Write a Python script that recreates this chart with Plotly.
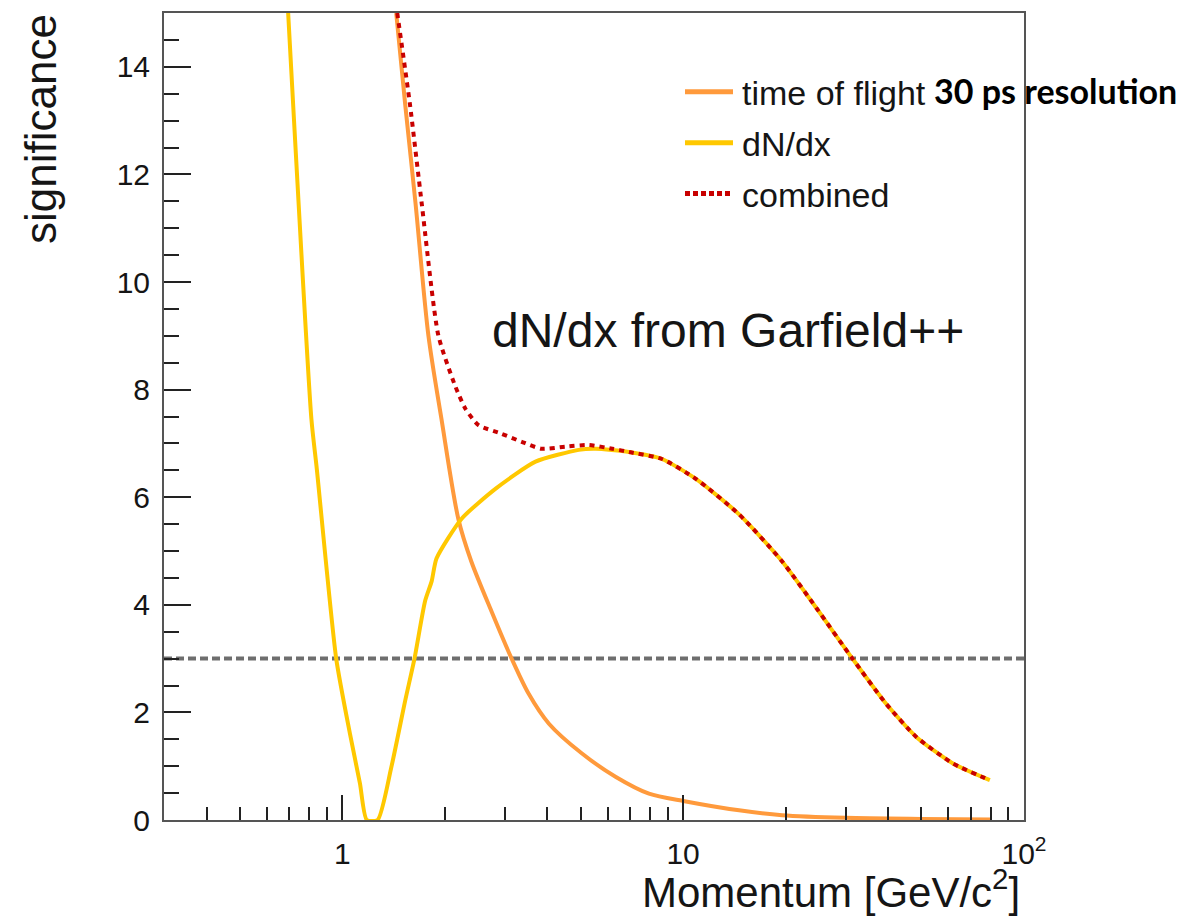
import plotly.graph_objects as go
import numpy as np

# ---------------- data ----------------
tof_x = [1.44, 1.53, 1.64, 1.79, 1.955, 2.19, 2.39, 2.74, 3.14, 3.52, 4.04, 5.04, 6.35, 7.94, 10.1, 14.6, 19.5, 30, 50, 80]
tof_y = [15.0, 13.3, 11.47, 9.0, 7.45, 5.6, 4.81, 3.88, 3.0, 2.35, 1.79, 1.24, 0.80, 0.49, 0.35, 0.18, 0.09, 0.04, 0.02, 0.01]

dndx_x = [0.694, 0.812, 0.842, 0.96, 1.053, 1.127, 1.18, 1.27, 1.393, 1.53, 1.629, 1.75, 1.83, 1.89, 2.24,
          2.82, 3.69, 4.94, 5.54, 6.93, 8.67, 10.9, 14.6, 19.5, 24.6, 31.3, 39.4, 48.4, 61.9, 79.4]
dndx_y = [15.0, 7.45, 6.53, 3.0, 1.61, 0.68, 0.0, 0.0, 0.98, 2.22, 3.0, 4.07, 4.44, 4.86, 5.60,
          6.16, 6.66, 6.88, 6.90, 6.84, 6.71, 6.34, 5.68, 4.81, 3.94, 3.01, 2.16, 1.54, 1.05, 0.74]

comb_x = [1.45, 1.58, 1.71, 1.915, 2.15, 2.30, 2.51, 2.93, 3.36, 3.84, 4.52, 5.29, 6.2,
          6.93, 8.67, 10.9, 14.6, 19.5, 24.6, 31.3, 39.4, 48.4, 61.9, 79.4]
comb_y = [15.0, 13.3, 11.47, 9.0, 8.05, 7.64, 7.34, 7.18, 7.03, 6.90, 6.94, 6.97, 6.90,
          6.84, 6.71, 6.34, 5.68, 4.81, 3.94, 3.01, 2.16, 1.54, 1.05, 0.74]

threshold_x = [0.3, 100]
threshold_y = [3, 3]

x_major = [1, 10, 100]
x_major_text = ["1", "10", "10<sup>2</sup>"]
x_minor = [0.4, 0.5, 0.6, 0.7, 0.8, 0.9, 2, 3, 4, 5, 6, 7, 8, 9, 20, 30, 40, 50, 60, 70, 80, 90]

legend_labels = ["time of flight", "dN/dx", "combined"]

# ---------------- style ----------------
C_TOF = "#FF9A3C"
C_DNDX = "#FFC800"
C_COMB = "#C80000"
C_THR = "#6E6E6E"
FONT = "Liberation Sans, Arial, Helvetica, sans-serif"
TXT = "#151515"

fig = go.Figure()
fig.add_trace(go.Scatter(x=threshold_x, y=threshold_y, mode="lines",
                         line=dict(color=C_THR, width=4, dash="8px,4px"), showlegend=False))
fig.add_trace(go.Scatter(x=tof_x, y=tof_y, mode="lines",
                         line=dict(color=C_TOF, width=4, shape="spline", smoothing=0.8), showlegend=False))
fig.add_trace(go.Scatter(x=dndx_x, y=dndx_y, mode="lines",
                         line=dict(color=C_DNDX, width=4, shape="spline", smoothing=0.6), showlegend=False))
fig.add_trace(go.Scatter(x=comb_x, y=comb_y, mode="lines",
                         line=dict(color=C_COMB, width=4, dash="5px,5px", shape="spline", smoothing=0.6),
                         showlegend=False))

L, R, T, B = 164, 179, 11, 99
W, H = 1203, 919
pw, ph = W - L - R, H - T - B

def px(xp):
    return (xp - L) / pw

def py(yp):
    return (H - B - yp) / ph

fig.update_layout(
    width=W, height=H,
    margin=dict(l=L, r=R, t=T, b=B),
    paper_bgcolor="white", plot_bgcolor="white",
    font=dict(family=FONT, color=TXT),
    showlegend=False,
)

fig.update_xaxes(
    type="log", range=[np.log10(0.3), 2],
    tickmode="array", tickvals=x_major, ticktext=x_major_text,
    ticks="inside", ticklen=25, tickwidth=2, tickcolor="#222",
    tickfont=dict(size=30, family=FONT, color=TXT),
    ticklabelstandoff=6,
    minor=dict(tickmode="array", tickvals=x_minor, ticks="inside", ticklen=13,
               tickwidth=2, tickcolor="#222", showgrid=False),
    showline=True, linecolor="#555", linewidth=2, mirror=True,
    showgrid=False, zeroline=False,
)
fig.update_yaxes(
    range=[0, 15], tickmode="linear", tick0=0, dtick=2,
    ticks="inside", ticklen=27, tickwidth=2, tickcolor="#222",
    tickfont=dict(size=30, family=FONT, color=TXT),
    ticklabelstandoff=6,
    minor=dict(tickmode="linear", tick0=0, dtick=0.5, ticks="inside", ticklen=15,
               tickwidth=2, tickcolor="#222", showgrid=False),
    showline=True, linecolor="#555", linewidth=2, mirror=True,
    showgrid=False, zeroline=False,
)

# axis titles (ROOT style, aligned to the end of the axes)
fig.add_annotation(text="Momentum [GeV/c<sup>2</sup>]", xref="paper", yref="paper",
                   x=px(1022), y=py(889), xanchor="right", yanchor="middle",
                   showarrow=False, font=dict(size=42, family=FONT, color=TXT))
fig.add_annotation(text="significance", xref="paper", yref="paper",
                   x=px(40), y=py(10), xanchor="center", yanchor="top", textangle=-90,
                   showarrow=False, font=dict(size=44, family=FONT, color=TXT))

# in-plot label
fig.add_annotation(text="dN/dx from Garfield++", xref="paper", yref="paper",
                   x=px(490), y=py(329), xanchor="left", yanchor="middle",
                   showarrow=False, font=dict(size=48, family=FONT, color=TXT))

# manual ROOT-like legend
leg_y = [90, 141, 192]
leg_styles = [dict(color=C_TOF, width=5), dict(color=C_DNDX, width=5),
              dict(color=C_COMB, width=5, dash="5px,3px")]
for lab, yy, st in zip(legend_labels, leg_y, leg_styles):
    fig.add_shape(type="line", xref="paper", yref="paper",
                  x0=px(685), x1=px(733), y0=py(yy), y1=py(yy), line=st)
    fig.add_annotation(text=lab, xref="paper", yref="paper",
                       x=px(740), y=py(yy + 1), xanchor="left", yanchor="middle",
                       showarrow=False, font=dict(size=34, family=FONT, color=TXT))

fig.add_annotation(text="<b>30 ps resolution</b>", xref="paper", yref="paper",
                   x=px(932), y=py(89), xanchor="left", yanchor="middle",
                   showarrow=False, font=dict(size=34, family="Lato, Open Sans, sans-serif", color="black"))

fig.write_html("out.html")
